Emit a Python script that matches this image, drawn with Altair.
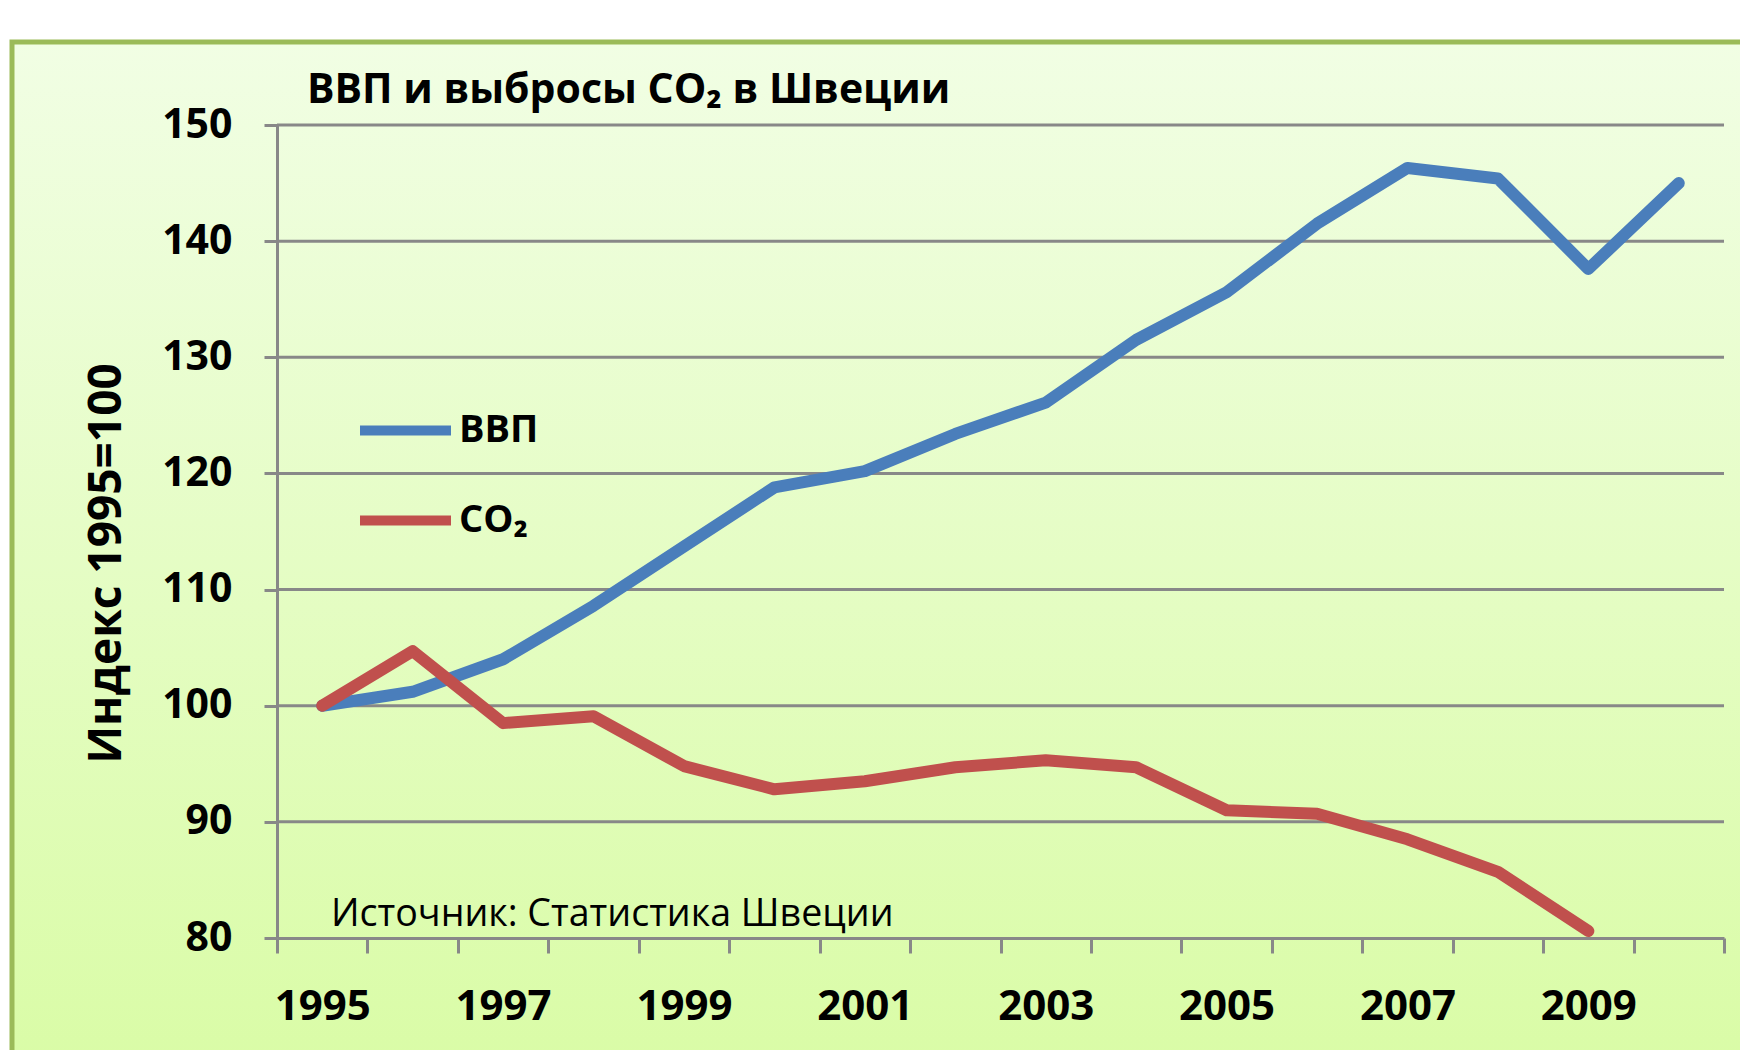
import altair as alt
import pandas as pd

years = list(range(1995, 2011))
gdp = [100, 101.2, 104.0, 108.6, 113.7, 118.8, 120.2, 123.4, 126.1, 131.5, 135.6, 141.5, 146.3, 145.4, 137.6, 145.0]
co2 = [100, 104.7, 98.5, 99.1, 94.8, 92.8, 93.5, 94.7, 95.3, 94.7, 91.0, 90.7, 88.5, 85.7, 80.6, None]
series_names = ["ВВП", "CO₂"]
series_colors = ["#4A7EBB", "#C0504D"]
y_ticks = [80, 90, 100, 110, 120, 130, 140, 150]
title_text = "ВВП и выбросы CO₂ в Швеции"
y_title = "Индекс 1995=100"
source_text = "Источник: Статистика Швеции"

rows = []
for yr, g, c in zip(years, gdp, co2):
    rows.append({"year": yr, "series": series_names[0], "value": g})
    if c is not None:
        rows.append({"year": yr, "series": series_names[1], "value": c})
df = pd.DataFrame(rows)
grid_df = pd.DataFrame({"value": y_ticks[1:]})

W, H = 1447, 813
FONT = "Open Sans"
x_vals = [y - 0.5 for y in years] + [years[-1] + 0.5] + [y for y in years if y % 2 == 1]

x_scale = alt.Scale(domain=[years[0] - 0.5, years[-1] + 0.5], nice=False, zero=False)
y_scale = alt.Scale(domain=[80, 150], nice=False, zero=False)

x_enc = alt.X(
    "year:Q", scale=x_scale,
    axis=alt.Axis(
        title=None, values=x_vals, grid=False, zindex=1,
        labelExpr="datum.value % 2 == 1 ? '' + datum.value : ''",
        labelOverlap=False, labelFlush=False,
        tickSize=15, tickWidth=3, tickColor="#888888",
        tickOpacity={"condition": {"test": "datum.value % 1 != 0", "value": 1}, "value": 0},
        domainColor="#888888", domainWidth=3,
        labelFont=FONT, labelFontWeight="bold", labelFontSize=42, labelColor="black",
        labelPadding=33,
    ),
)
y_enc = alt.Y(
    "value:Q", scale=y_scale,
    axis=alt.Axis(
        title=y_title, values=y_ticks, grid=False, zindex=1,
        tickSize=13, tickWidth=3, tickColor="#888888",
        domainColor="#888888", domainWidth=3,
        labelFont=FONT, labelFontWeight="bold", labelFontSize=41, labelColor="black",
        labelPadding=32,
        titleFont=FONT, titleFontWeight="bold", titleFontSize=46, titleColor="black",
        titleAngle=-90, titleX=-171, titleY=438, titleAlign="center", titleBaseline="middle",
    ),
)

bg = alt.Chart(alt.Data(values=[{}])).mark_rect(
    fill={"gradient": "linear", "x1": 0, "y1": 0, "x2": 0, "y2": 1,
          "stops": [{"offset": 0, "color": "#F1FEE4"}, {"offset": 1, "color": "#D9FCA5"}]},
    stroke="#9BBB59", strokeWidth=5,
).encode(
    x=alt.value(-265), x2=alt.value(W + 60), y=alt.value(-83), y2=alt.value(H + 150)
)

grid = alt.Chart(grid_df).mark_rule(color="#888888", strokeWidth=3).encode(
    y=alt.Y("value:Q", scale=y_scale), x=alt.value(0), x2=alt.value(W)
)

lines = alt.Chart(df).mark_line(strokeWidth=12, strokeCap="round", strokeJoin="round").encode(
    x=x_enc, y=y_enc,
    color=alt.Color(
        "series:N",
        scale=alt.Scale(domain=series_names, range=series_colors),
        legend=alt.Legend(
            title=None, orient="none", legendX=78, legendY=255, direction="vertical",
            symbolType="stroke", symbolSize=8281, symbolStrokeWidth=10,
            labelFont=FONT, labelFontWeight="bold", labelFontSize=38, labelColor="black",
            labelOffset=3, rowPadding=19,
        ),
    ),
)

title = alt.Chart(alt.Data(values=[{}])).mark_text(
    text=title_text, font=FONT, fontWeight="bold", fontSize=41, color="black",
    align="left", baseline="alphabetic"
).encode(x=alt.value(30), y=alt.value(-22))

source = alt.Chart(alt.Data(values=[{}])).mark_text(
    text=source_text, font=FONT, fontSize=37.6, color="black", align="left", baseline="alphabetic"
).encode(x=alt.value(54), y=alt.value(801))

chart = alt.layer(bg, grid, lines, title, source).properties(
    width=W, height=H,
    autosize=alt.AutoSizeParams(type="none"),
    padding={"left": 269, "top": 117, "right": 16, "bottom": 112},
    background="white",
).configure_view(stroke=None)

chart.save("out.html", embed_options={"renderer": "svg", "actions": False})
